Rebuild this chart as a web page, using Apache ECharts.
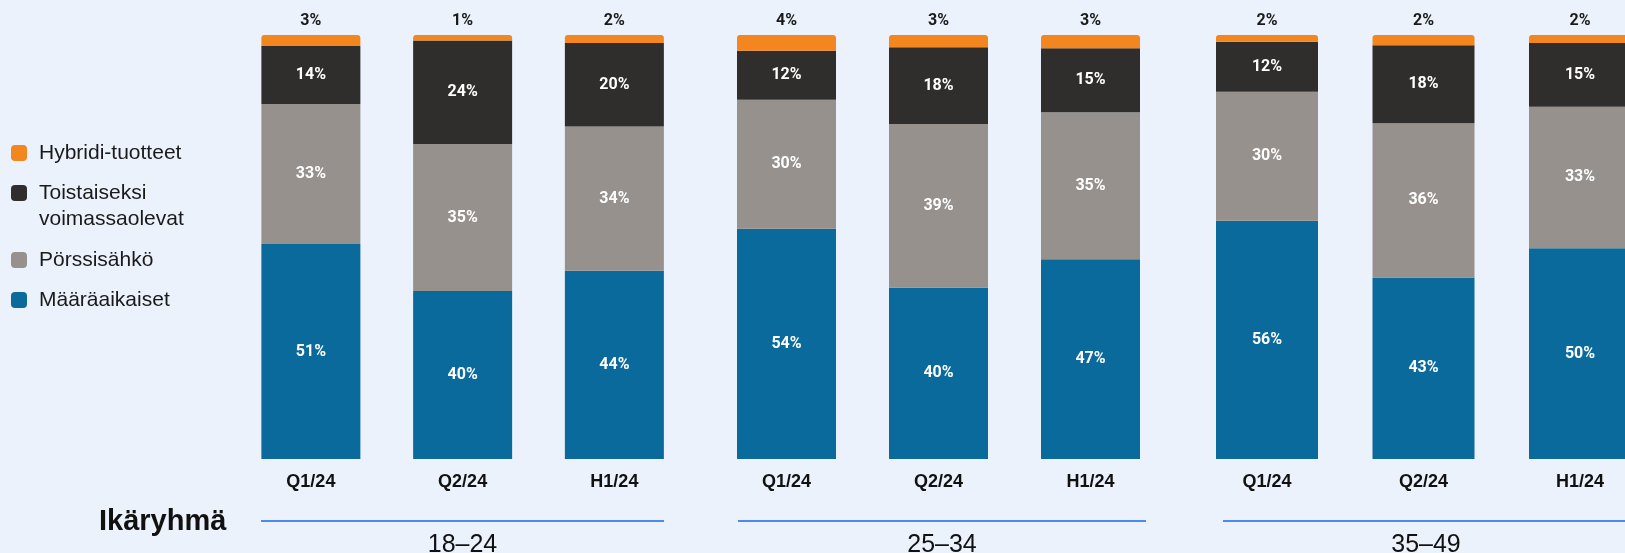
<!DOCTYPE html>
<html>
<head>
<meta charset="utf-8">
<script src="https://cdn.jsdelivr.net/npm/echarts@6/dist/echarts.min.js"></script>
<style>
  html, body { margin: 0; padding: 0; background: #ebf2fc; }
  #container { width: 1625px; height: 553px; }
</style>
</head>
<body>
<div id="container"></div>
<script>
var myChart = echarts.init(document.getElementById('container'));

// periods inside each age group
var categories = ['Q1/24', 'Q2/24', 'H1/24'];
var groups = ['18–24', '25–34', '35–49'];

// shares in %, one row per age group, [Q1, Q2, H1]
var maaraaikaiset = [[50.7, 39.6, 44.4], [54.3, 40.4, 47.1], [56.2, 42.8, 49.7]];
var porssisahko = [[33.0, 34.7, 34.0], [30.4, 38.6, 34.7], [30.4, 36.4, 33.4]];
var toistaiseksi = [[13.7, 24.4, 19.7], [11.6, 18.1, 15.1], [11.8, 18.4, 15.0]];
var hybridi = [[2.6, 1.3, 1.9], [3.7, 2.9, 3.1], [1.6, 2.4, 1.9]];

var names = ['Määräaikaiset', 'Pörssisähkö', 'Toistaiseksi voimassaolevat', 'Hybridi-tuotteet'];
var colors = ['#0a6a9c', '#96918d', '#302e2c', '#f4861f'];
var layers = [maaraaikaiset, porssisahko, toistaiseksi, hybridi];

var gridLeft = [235, 710.5, 1188.75];
var gridWidth = [455.25, 456, 469.5];
var barW = [99, 99, 102];

var grids = [], xAxes = [], yAxes = [], series = [];
groups.forEach(function (g, i) {
	grids.push({
		left: gridLeft[i],
		width: gridWidth[i],
		top: 35,
		bottom: 94,
		outerBoundsMode: 'none'
	});
	xAxes.push({
		type: 'category',
		gridIndex: i,
		data: categories,
		axisLine: { show: false },
		axisTick: { show: false },
		axisLabel: {
			margin: 14,
			fontFamily: 'Liberation Sans',
			fontWeight: 'bold',
			fontSize: 18,
			color: '#111'
		}
	});
	yAxes.push({ type: 'value', gridIndex: i, min: 0, max: 100, show: false });
	layers.forEach(function (arr, k) {
		var top = k === 3;
		series.push({
			name: names[k],
			type: 'bar',
			stack: 'g' + i,
			xAxisIndex: i,
			yAxisIndex: i,
			barWidth: barW[i],
			data: arr[i],
			itemStyle: { color: colors[k], borderRadius: top ? [3, 3, 0, 0] : 0 },
			label: {
				show: true,
				position: top ? 'top' : 'inside',
				distance: 6,
				color: top ? '#1a1a1a' : '#fff',
				fontFamily: 'Roboto',
				fontWeight: 'bold',
				fontSize: 16,
				formatter: function (p) { return Math.round(p.value) + '%'; }
			}
		});
	});
});

var legendText = {
	fontFamily: 'Liberation Sans',
	fontSize: 21,
	color: '#1a1a1a',
	lineHeight: 26,
	padding: [0, 0, 0, 7]
};
function legendAt(name, top) {
	return {
		left: 11,
		top: top,
		padding: 0,
		orient: 'vertical',
		icon: 'roundRect',
		itemWidth: 16,
		itemHeight: 16,
		data: [name],
		selectedMode: false,
		textStyle: legendText,
		// two-line name: blank first line keeps the square beside the first word
		formatter: function (n) {
			return n.indexOf(' ') > 0 ? '\n' + n.replace(' ', '\n') : n;
		}
	};
}

var lines = [[261, 664], [738, 1146], [1223, 1625]];
var labelX = [462.5, 942, 1426];
var graphic = [{
	type: 'text',
	left: 99,
	top: 507,
	style: { text: 'Ikäryhmä', font: 'bold 29px "Liberation Sans"', fill: '#111' }
}];
groups.forEach(function (g, i) {
	graphic.push({
		type: 'line',
		shape: { x1: lines[i][0], y1: 521, x2: lines[i][1], y2: 521 },
		style: { stroke: '#4c8af0', lineWidth: 2 }
	});
	graphic.push({
		type: 'text',
		x: labelX[i],
		y: 545,
		style: {
			text: g,
			font: '25px "Liberation Sans"',
			fill: '#111',
			align: 'center',
			verticalAlign: 'middle'
		}
	});
});

option = {
	backgroundColor: '#ebf2fc',
	animation: false,
	legend: [
		legendAt('Hybridi-tuotteet', 140),
		legendAt('Toistaiseksi voimassaolevat', 154),
		legendAt('Pörssisähkö', 247),
		legendAt('Määräaikaiset', 287)
	],
	grid: grids,
	xAxis: xAxes,
	yAxis: yAxes,
	series: series,
	graphic: graphic
};

myChart.setOption(option);
</script>
</body>
</html>
